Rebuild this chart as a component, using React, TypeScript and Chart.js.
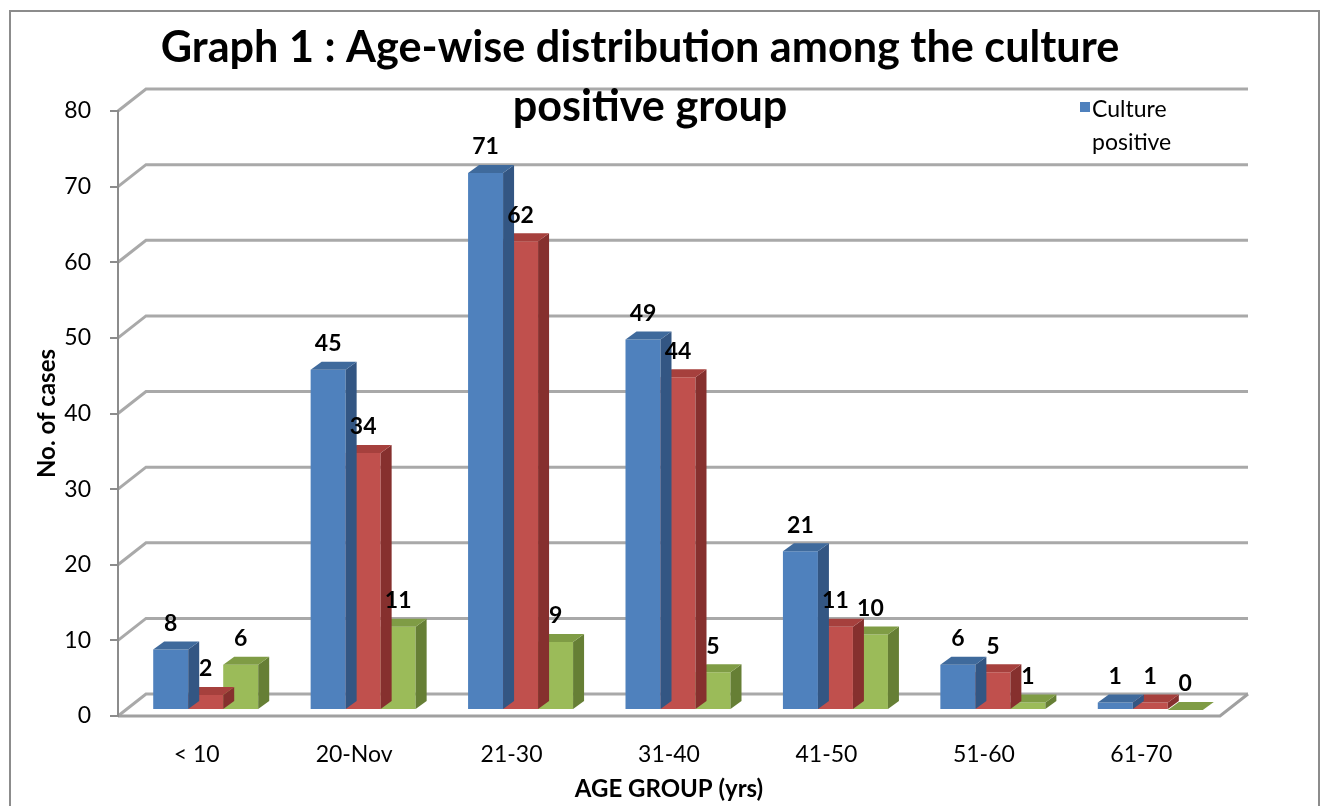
import React, { useEffect, useRef } from "react";
import { Chart, registerables } from "chart.js";

Chart.register(...registerables);

// ---- data ----
const categories = ["< 10", "20-Nov", "21-30", "31-40", "41-50", "51-60", "61-70"];
const culturePositive = [8, 45, 71, 49, 21, 6, 1];
const seriesTwo = [2, 34, 62, 44, 11, 5, 1];
const seriesThree = [6, 11, 9, 5, 10, 1, 0];
const seriesNames = ["Culture positive", "", ""];
const titleLines = ["Graph 1 : Age-wise distribution among the culture", "positive group"];
const legendLines = ["Culture", "positive"];
const yAxisTitle = "No. of cases";
const xAxisTitle = "AGE GROUP (yrs)";

// ---- style ----
const FONT = "Lato, 'Open Sans', sans-serif";
const frontColors = ["#4F81BD", "#C0504D", "#9BBB59"];
const topColors = ["#3F6A9C", "#A6403D", "#7F9C45"];
const sideColors = ["#335683", "#86302E", "#667F35"];
const WALL_DX = 28;
const WALL_DY = 22;
const BAR_DX = 9;
const BAR_DY = -6;
const FACE_DX = 11;
const FACE_DY = 8;

const threeD = {
  id: "threeD",
  beforeDraw(chart: any) {
    const { ctx, chartArea: a, scales } = chart;
    const y = scales.y;
    ctx.save();
    ctx.fillStyle = "#ffffff";
    ctx.fillRect(0, 0, chart.width, chart.height);
    // outer frame
    ctx.strokeStyle = "#8c8c8c";
    ctx.lineWidth = 2;
    ctx.strokeRect(10, 11, chart.width - 13, chart.height + 30);
    // back wall gridlines with side-wall diagonals
    ctx.strokeStyle = "#a9a9a9";
    ctx.lineWidth = 3;
    y.ticks.forEach((t: any) => {
      const py = y.getPixelForValue(t.value);
      ctx.beginPath();
      ctx.moveTo(a.left, py);
      ctx.lineTo(a.left + WALL_DX, py - WALL_DY);
      ctx.lineTo(a.right + WALL_DX, py - WALL_DY);
      ctx.stroke();
    });
    // floor front edge
    const p0 = y.getPixelForValue(0);
    ctx.strokeStyle = "#a0a0a0";
    ctx.beginPath();
    ctx.moveTo(a.left, p0);
    ctx.lineTo(a.right, p0);
    ctx.lineTo(a.right + WALL_DX, p0 - WALL_DY);
    ctx.stroke();
    ctx.restore();
  },
  beforeDatasetDraw(chart: any) {
    chart.ctx.save();
    chart.ctx.translate(BAR_DX, BAR_DY);
  },
  afterDatasetDraw(chart: any, args: any) {
    const ctx = chart.ctx;
    const i = args.index;
    args.meta.data.forEach((bar: any) => {
      const { x, y, base, width } = bar.getProps(["x", "y", "base", "width"], true);
      const l = x - width / 2;
      const r = x + width / 2;
      ctx.fillStyle = sideColors[i];
      ctx.beginPath();
      ctx.moveTo(r, y);
      ctx.lineTo(r + FACE_DX, y - FACE_DY);
      ctx.lineTo(r + FACE_DX, base - FACE_DY);
      ctx.lineTo(r, base);
      ctx.closePath();
      ctx.fill();
      ctx.fillStyle = topColors[i];
      ctx.beginPath();
      ctx.moveTo(l, y);
      ctx.lineTo(l + FACE_DX, y - FACE_DY);
      ctx.lineTo(r + FACE_DX, y - FACE_DY);
      ctx.lineTo(r, y);
      ctx.closePath();
      ctx.fill();
    });
    ctx.restore();
  },
  afterDatasetsDraw(chart: any) {
    const ctx = chart.ctx;
    ctx.save();
    // value labels
    ctx.fillStyle = "#000";
    ctx.font = `bold 23px ${FONT}`;
    ctx.textAlign = "center";
    ctx.textBaseline = "middle";
    chart.data.datasets.forEach((ds: any, i: number) => {
      const meta = chart.getDatasetMeta(i);
      meta.data.forEach((bar: any, j: number) => {
        const { x, y } = bar.getProps(["x", "y"], true);
        ctx.fillText(String(ds.data[j]), x + BAR_DX, y + BAR_DY - 26);
      });
    });
    // title
    ctx.font = `bold 40px ${FONT}`;
    const w = ctx.measureText(titleLines[0]).width;
    const size = Math.min(44, (40 * 958) / w);
    ctx.font = `bold ${size.toFixed(1)}px ${FONT}`;
    ctx.fillText(titleLines[0], 640, 48);
    ctx.fillText(titleLines[1], 650, 107);
    // legend
    ctx.fillStyle = frontColors[0];
    ctx.fillRect(1080, 102, 10, 10);
    ctx.fillStyle = "#000";
    ctx.font = `23px ${FONT}`;
    ctx.textAlign = "left";
    ctx.fillText(legendLines[0], 1092, 110);
    ctx.fillText(legendLines[1], 1092, 143);
    ctx.restore();
  },
};

export default function App() {
  const canvasRef = useRef<HTMLCanvasElement | null>(null);

  useEffect(() => {
    document.body.style.margin = "0";
    const canvas = canvasRef.current;
    if (!canvas) return;
    const chart = new Chart(canvas, {
      type: "bar",
      data: {
        labels: categories,
        datasets: [culturePositive, seriesTwo, seriesThree].map((d, i) => ({
          label: seriesNames[i],
          data: d,
          backgroundColor: frontColors[i],
          borderWidth: 0,
          categoryPercentage: 0.667,
          barPercentage: 1,
          clip: false as any,
        })),
      },
      options: {
        animation: false,
        responsive: true,
        maintainAspectRatio: false,
        layout: { padding: { top: 111, right: 102, bottom: 0, left: 0 } },
        plugins: {
          legend: { display: false },
          title: { display: false },
          tooltip: { enabled: false },
        },
        scales: {
          x: {
            grid: { display: false },
            border: { display: false },
            ticks: {
              color: "#000",
              font: { family: FONT, size: 23 },
              padding: 17,
              maxRotation: 0,
            },
            title: {
              display: true,
              text: xAxisTitle,
              color: "#000",
              font: { family: FONT, size: 24, weight: "bold" },
              padding: { top: 0, bottom: 2 },
            },
            afterFit: (s: any) => {
              s.height = 90;
            },
          },
          y: {
            min: 0,
            max: 80,
            ticks: {
              stepSize: 10,
              color: "#000",
              font: { family: FONT, size: 23 },
              padding: 19,
            },
            grid: {
              drawOnChartArea: false,
              drawTicks: true,
              tickLength: 8,
              color: "#8c8c8c",
              lineWidth: 2,
            },
            border: { display: true, color: "#8c8c8c", width: 2 },
            title: {
              display: true,
              text: yAxisTitle,
              color: "#000",
              font: { family: FONT, size: 24, weight: "bold" },
              padding: { top: 33, bottom: 0 },
            },
            afterFit: (s: any) => {
              s.width = 118;
            },
          },
        },
      },
      plugins: [threeD],
    });
    return () => chart.destroy();
  }, []);

  return (
    <div style={{ position: "fixed", left: 0, top: 0, width: 1322, height: 806 }}>
      <canvas ref={canvasRef} />
    </div>
  );
}
